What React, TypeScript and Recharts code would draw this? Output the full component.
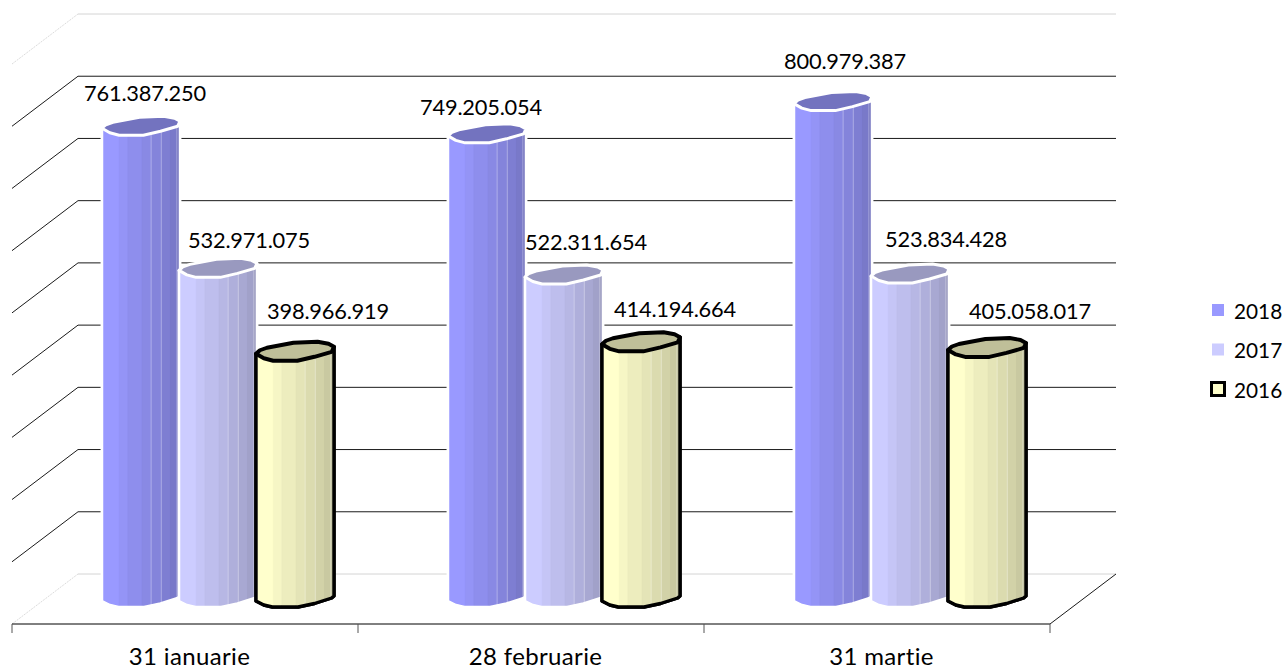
import React from "react";
import { BarChart, Bar, XAxis, YAxis, CartesianGrid, Legend, LabelList } from "recharts";

// ---- data ----
const categories = ["31 ianuarie", "28 februarie", "31 martie"];
const values2018 = [761387250, 749205054, 800979387];
const values2017 = [532971075, 522311654, 523834428];
const values2016 = [398966919, 414194664, 405058017];
const yTicks = [0, 100000000, 200000000, 300000000, 400000000, 500000000, 600000000, 700000000, 800000000, 900000000];

const data = categories.map((name, i) => ({
  name,
  s2018: values2018[i],
  s2017: values2017[i],
  s2016: values2016[i],
}));

// ---- layout / style ----
const FONT = "Lato, Carlito, Calibri, sans-serif";
const FONT_SIZE = 21.8;
const AXIS_FONT_SIZE = 24;
const W = 1285;
const H = 669;
const LEGEND_W = 84;
const M = { left: 12, right: 235, top: 64, bottom: 45 };
const BAND = (W - M.left - M.right) / categories.length;
const WALL_DX = 66;
const WALL_DY = -50;
const BAR_DX = 33;
const BAR_DY = -25;

const EDGES = [0, 0.22, 0.33, 0.51, 0.63, 0.76, 0.87, 0.96, 1];
const SHADES = [1, 0.965, 0.93, 0.895, 0.86, 0.825, 0.79, 0.75];
const LIT_EDGES = [0.63, 0.76, 0.96];

const TOP_FRONT: number[][] = [[0, 3], [0.1, 7.5], [0.22, 10], [0.53, 10], [0.75, 6], [0.97, 1], [1, -4]];
const TOP_BACK: number[][] = [[0, 3], [0.05, -0.5], [0.14, -3], [0.48, -8], [0.79, -9], [0.93, -7], [1, -4]];
const BOTTOM: number[][] = [[0, 2], [0.1, 6], [0.21, 8], [0.54, 8], [0.75, 4.5], [0.97, -1], [1, -3]];

const lerpProfile = (p: number[][], f: number) => {
  for (let i = 1; i < p.length; i++) {
    if (f <= p[i][0]) {
      const t = (f - p[i - 1][0]) / (p[i][0] - p[i - 1][0]);
      return p[i - 1][1] + t * (p[i][1] - p[i - 1][1]);
    }
  }
  return p[p.length - 1][1];
};

const shade = (rgb: number[], k: number) =>
  `rgb(${rgb.map((c) => Math.round(c * k)).join(",")})`;

const formatDots = (v: number) => String(v).replace(/\B(?=(\d{3})+(?!\d))/g, ".");

const makeCylinder =
  (rgb: number[], stroke: string, strokeWidth: number) =>
  (props: any) => {
    const { x, y, width, height } = props;
    const bx = x + BAR_DX;
    const w = width;
    const yc = y + BAR_DY;
    const y0 = y + height + BAR_DY;
    const pt = (f: number, dy: number, base: number) => `${bx + f * w},${base + dy}`;
    const stripes = SHADES.map((k, i) => {
      const a = EDGES[i];
      const b = EDGES[i + 1];
      const pts = [
        pt(a, lerpProfile(TOP_FRONT, a), yc),
        pt(b, lerpProfile(TOP_FRONT, b), yc),
        pt(b, lerpProfile(BOTTOM, b), y0),
        pt(a, lerpProfile(BOTTOM, a), y0),
      ].join(" ");
      return <polygon key={i} points={pts} fill={shade(rgb, k)} stroke={shade(rgb, k)} strokeWidth={0.4} />;
    });
    const seams = LIT_EDGES.map((f) => (
      <line
        key={f}
        x1={bx + f * w}
        y1={yc + lerpProfile(TOP_FRONT, f)}
        x2={bx + f * w}
        y2={y0 + lerpProfile(BOTTOM, f)}
        stroke="#fff"
        strokeOpacity={0.35}
        strokeWidth={1}
      />
    ));
    const outline = [
      pt(0, TOP_FRONT[0][1], yc),
      pt(1, TOP_FRONT[TOP_FRONT.length - 1][1], yc),
      ...BOTTOM.slice().reverse().map((p) => pt(p[0], p[1], y0)),
    ].join(" ");
    const cap = [
      ...TOP_BACK.map((p) => pt(p[0], p[1], yc)),
      ...TOP_FRONT.slice().reverse().map((p) => pt(p[0], p[1], yc)),
    ].join(" ");
    return (
      <g>
        <polygon points={outline} fill={shade(rgb, 1)} stroke={stroke} strokeWidth={strokeWidth} strokeLinejoin="round" />
        {stripes}
        {seams}
        <polygon points={outline} fill="none" stroke={stroke} strokeWidth={strokeWidth} strokeLinejoin="round" />
        <polygon points={cap} fill={shade(rgb, 0.75)} stroke={stroke} strokeWidth={strokeWidth + 0.5} strokeLinejoin="round" />
      </g>
    );
  };

// Hand-placed data labels of the reference: offsets from each cap centre
const labelNudge: Record<string, number[][]> = {
  s2018: [[4, -33], [-6, -26], [12, -40]],
  s2017: [[31, -28], [22, -33], [36, -35]],
  s2016: [[33, -40], [34, -33], [43, -36]],
};

const makeLabel = (key: string) => (props: any) => {
  const { x, y, width, value, index } = props;
  const [dx, dy] = labelNudge[key][index];
  return (
    <text
      x={x + BAR_DX + width / 2 + dx}
      y={y + BAR_DY + dy}
      textAnchor="middle"
      dominantBaseline="central"
      fontFamily={FONT}
      fontSize={FONT_SIZE}
      letterSpacing={-0.2}
      fill="#000"
    >
      {formatDots(value)}
    </text>
  );
};

const GridLine = (props: any) => {
  const { x1, x2, y1 } = props;
  const floor = Math.abs(y1 - (H - M.bottom)) < 1;
  const top = Math.abs(y1 - M.top) < 1;
  const faint = floor || top;
  const color = faint ? "#d4d4d4" : "#1a1a1a";
  return (
    <g fill="none">
      <line x1={x1} y1={y1} x2={x1 + WALL_DX} y2={y1 + WALL_DY} stroke={faint ? "#dcdcdc" : "#1a1a1a"} strokeDasharray={faint ? "2 1" : undefined} />
      <line x1={x1 + WALL_DX} y1={y1 + WALL_DY} x2={x2 + WALL_DX} y2={y1 + WALL_DY} stroke={color} />
      {floor ? <line x1={x2} y1={y1} x2={x2 + WALL_DX} y2={y1 + WALL_DY} stroke="#1a1a1a" /> : null}
    </g>
  );
};

const AxisTick = (props: any) => {
  const { x, y, payload, index } = props;
  const last = index === categories.length - 1;
  return (
    <g>
      <line x1={x - BAND / 2} y1={y} x2={x - BAND / 2} y2={y + 9} stroke="#555" />
      {last ? <line x1={x + BAND / 2} y1={y} x2={x + BAND / 2} y2={y + 9} stroke="#555" /> : null}
      <text x={x + 4.5} y={y + 31} textAnchor="middle" dominantBaseline="central" fontFamily={FONT} fontSize={AXIS_FONT_SIZE} letterSpacing={0.35} fill="#000">
        {payload.value}
      </text>
    </g>
  );
};

const legendItems = [
  { label: "2018", fill: "#9999FF", stroke: "none", sw: 0, size: 12 },
  { label: "2017", fill: "#CCCCFF", stroke: "none", sw: 0, size: 12 },
  { label: "2016", fill: "#FFFFCC", stroke: "#000", sw: 3, size: 13 },
];

const renderLegend = () => (
  <svg width={LEGEND_W} height={110} style={{ display: "block" }}>
    {legendItems.map((it, i) => {
      const cy = 10 + i * 39.5;
      return (
        <g key={it.label}>
          <rect x={17 - it.size / 2} y={cy - it.size / 2} width={it.size} height={it.size} fill={it.fill} stroke={it.stroke} strokeWidth={it.sw} />
          <text x={33} y={cy} dominantBaseline="central" fontFamily={FONT} fontSize={20.8} fill="#000">
            {it.label}
          </text>
        </g>
      );
    })}
  </svg>
);

export default function App() {
  return (
    <div style={{ position: "absolute", left: 0, top: 0, width: W, height: H, overflow: "hidden", background: "#fff" }}>
      <BarChart width={W} height={H} data={data} margin={{ left: M.left, top: M.top, right: M.right - LEGEND_W, bottom: 0 }} barSize={78} barGap={-1}>
        <CartesianGrid vertical={false} horizontal={GridLine as any} horizontalValues={yTicks} />
        <XAxis
          dataKey="name"
          axisLine={{ stroke: "#000" }}
          tickLine={false}
          tickSize={0}
          tickMargin={0}
          tick={AxisTick as any}
          interval={0}
          height={M.bottom}
        />
        <YAxis hide domain={[0, 900000000]} ticks={yTicks} />
        <Legend
          layout="vertical"
          align="right"
          verticalAlign="middle"
          width={LEGEND_W}
          content={renderLegend}
          wrapperStyle={{ position: "absolute", left: 1201, top: 300, width: LEGEND_W, height: 110 }}
        />
        <Bar dataKey="s2018" isAnimationActive={false} shape={makeCylinder([153, 153, 255], "#fff", 2.5)}>
          <LabelList dataKey="s2018" content={makeLabel("s2018") as any} />
        </Bar>
        <Bar dataKey="s2017" isAnimationActive={false} shape={makeCylinder([204, 204, 255], "#fff", 2.5)}>
          <LabelList dataKey="s2017" content={makeLabel("s2017") as any} />
        </Bar>
        <Bar dataKey="s2016" isAnimationActive={false} shape={makeCylinder([255, 255, 204], "#000", 3.4)}>
          <LabelList dataKey="s2016" content={makeLabel("s2016") as any} />
        </Bar>
      </BarChart>
    </div>
  );
}
